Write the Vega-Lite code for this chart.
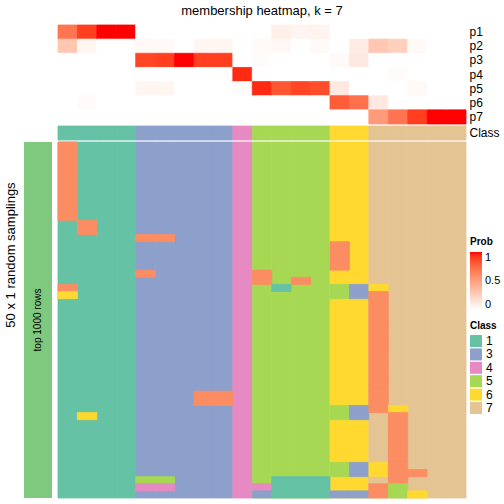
{
 "$schema": "https://vega.github.io/schema/vega-lite/v6.json",
 "background": "white",
 "padding": {"left": 4, "top": 4, "right": 0, "bottom": 0},
 "config": {
  "view": {"stroke": null},
  "font": "Liberation Sans",
  "title": {"font": "Liberation Sans", "fontWeight": "normal", "fontSize": 13, "color": "black"},
  "axis": {"labelFont": "Liberation Sans", "labelColor": "black"},
  "legend": {"labelFont": "Liberation Sans", "titleFont": "Liberation Sans", "labelColor": "black", "titleColor": "black"}
 },
 "datasets": {
  "membership": [
   {"c":0,"p":"p1","v":0.70},{"c":0,"p":"p2","v":0.30},{"c":0,"p":"p3","v":0},{"c":0,"p":"p4","v":0},{"c":0,"p":"p5","v":0},{"c":0,"p":"p6","v":0},{"c":0,"p":"p7","v":0},
   {"c":1,"p":"p1","v":0.90},{"c":1,"p":"p2","v":0.05},{"c":1,"p":"p3","v":0},{"c":1,"p":"p4","v":0},{"c":1,"p":"p5","v":0},{"c":1,"p":"p6","v":0.02},{"c":1,"p":"p7","v":0},
   {"c":2,"p":"p1","v":1},{"c":2,"p":"p2","v":0},{"c":2,"p":"p3","v":0},{"c":2,"p":"p4","v":0},{"c":2,"p":"p5","v":0},{"c":2,"p":"p6","v":0},{"c":2,"p":"p7","v":0},
   {"c":3,"p":"p1","v":1},{"c":3,"p":"p2","v":0},{"c":3,"p":"p3","v":0},{"c":3,"p":"p4","v":0},{"c":3,"p":"p5","v":0},{"c":3,"p":"p6","v":0},{"c":3,"p":"p7","v":0},
   {"c":4,"p":"p1","v":0},{"c":4,"p":"p2","v":0.04},{"c":4,"p":"p3","v":0.88},{"c":4,"p":"p4","v":0},{"c":4,"p":"p5","v":0.05},{"c":4,"p":"p6","v":0},{"c":4,"p":"p7","v":0},
   {"c":5,"p":"p1","v":0},{"c":5,"p":"p2","v":0.03},{"c":5,"p":"p3","v":0.90},{"c":5,"p":"p4","v":0},{"c":5,"p":"p5","v":0.05},{"c":5,"p":"p6","v":0},{"c":5,"p":"p7","v":0},
   {"c":6,"p":"p1","v":0},{"c":6,"p":"p2","v":0},{"c":6,"p":"p3","v":1},{"c":6,"p":"p4","v":0},{"c":6,"p":"p5","v":0},{"c":6,"p":"p6","v":0},{"c":6,"p":"p7","v":0},
   {"c":7,"p":"p1","v":0},{"c":7,"p":"p2","v":0.05},{"c":7,"p":"p3","v":0.90},{"c":7,"p":"p4","v":0},{"c":7,"p":"p5","v":0},{"c":7,"p":"p6","v":0},{"c":7,"p":"p7","v":0},
   {"c":8,"p":"p1","v":0},{"c":8,"p":"p2","v":0.05},{"c":8,"p":"p3","v":0.90},{"c":8,"p":"p4","v":0},{"c":8,"p":"p5","v":0},{"c":8,"p":"p6","v":0},{"c":8,"p":"p7","v":0},
   {"c":9,"p":"p1","v":0},{"c":9,"p":"p2","v":0},{"c":9,"p":"p3","v":0},{"c":9,"p":"p4","v":0.95},{"c":9,"p":"p5","v":0.02},{"c":9,"p":"p6","v":0},{"c":9,"p":"p7","v":0},
   {"c":10,"p":"p1","v":0},{"c":10,"p":"p2","v":0.03},{"c":10,"p":"p3","v":0.02},{"c":10,"p":"p4","v":0},{"c":10,"p":"p5","v":0.95},{"c":10,"p":"p6","v":0},{"c":10,"p":"p7","v":0},
   {"c":11,"p":"p1","v":0.08},{"c":11,"p":"p2","v":0.04},{"c":11,"p":"p3","v":0},{"c":11,"p":"p4","v":0},{"c":11,"p":"p5","v":0.82},{"c":11,"p":"p6","v":0},{"c":11,"p":"p7","v":0},
   {"c":12,"p":"p1","v":0.06},{"c":12,"p":"p2","v":0},{"c":12,"p":"p3","v":0},{"c":12,"p":"p4","v":0},{"c":12,"p":"p5","v":0.88},{"c":12,"p":"p6","v":0},{"c":12,"p":"p7","v":0},
   {"c":13,"p":"p1","v":0.06},{"c":13,"p":"p2","v":0.03},{"c":13,"p":"p3","v":0},{"c":13,"p":"p4","v":0},{"c":13,"p":"p5","v":0.86},{"c":13,"p":"p6","v":0},{"c":13,"p":"p7","v":0},
   {"c":14,"p":"p1","v":0},{"c":14,"p":"p2","v":0},{"c":14,"p":"p3","v":0.03},{"c":14,"p":"p4","v":0},{"c":14,"p":"p5","v":0.12},{"c":14,"p":"p6","v":0.80},{"c":14,"p":"p7","v":0},
   {"c":15,"p":"p1","v":0},{"c":15,"p":"p2","v":0.10},{"c":15,"p":"p3","v":0.12},{"c":15,"p":"p4","v":0},{"c":15,"p":"p5","v":0},{"c":15,"p":"p6","v":0.72},{"c":15,"p":"p7","v":0},
   {"c":16,"p":"p1","v":0},{"c":16,"p":"p2","v":0.30},{"c":16,"p":"p3","v":0},{"c":16,"p":"p4","v":0},{"c":16,"p":"p5","v":0},{"c":16,"p":"p6","v":0.12},{"c":16,"p":"p7","v":0.52},
   {"c":17,"p":"p1","v":0},{"c":17,"p":"p2","v":0.25},{"c":17,"p":"p3","v":0},{"c":17,"p":"p4","v":0.02},{"c":17,"p":"p5","v":0},{"c":17,"p":"p6","v":0},{"c":17,"p":"p7","v":0.70},
   {"c":18,"p":"p1","v":0},{"c":18,"p":"p2","v":0.03},{"c":18,"p":"p3","v":0},{"c":18,"p":"p4","v":0},{"c":18,"p":"p5","v":0.03},{"c":18,"p":"p6","v":0},{"c":18,"p":"p7","v":0.90},
   {"c":19,"p":"p1","v":0},{"c":19,"p":"p2","v":0},{"c":19,"p":"p3","v":0},{"c":19,"p":"p4","v":0},{"c":19,"p":"p5","v":0},{"c":19,"p":"p6","v":0},{"c":19,"p":"p7","v":1},
   {"c":20,"p":"p1","v":0},{"c":20,"p":"p2","v":0},{"c":20,"p":"p3","v":0},{"c":20,"p":"p4","v":0},{"c":20,"p":"p5","v":0},{"c":20,"p":"p6","v":0},{"c":20,"p":"p7","v":1}
  ],
  "classes": [
   {"c":0,"k":"1"},{"c":1,"k":"1"},{"c":2,"k":"1"},{"c":3,"k":"1"},
   {"c":4,"k":"3"},{"c":5,"k":"3"},{"c":6,"k":"3"},{"c":7,"k":"3"},{"c":8,"k":"3"},
   {"c":9,"k":"4"},
   {"c":10,"k":"5"},{"c":11,"k":"5"},{"c":12,"k":"5"},{"c":13,"k":"5"},
   {"c":14,"k":"6"},{"c":15,"k":"6"},
   {"c":16,"k":"7"},{"c":17,"k":"7"},{"c":18,"k":"7"},{"c":19,"k":"7"},{"c":20,"k":"7"}
  ],
  "samplings": [
   {"c":0,"r":0,"k":"2"},{"c":0,"r":1,"k":"2"},{"c":0,"r":2,"k":"2"},{"c":0,"r":3,"k":"2"},{"c":0,"r":4,"k":"2"},{"c":0,"r":5,"k":"2"},{"c":0,"r":6,"k":"2"},{"c":0,"r":7,"k":"2"},{"c":0,"r":8,"k":"2"},{"c":0,"r":9,"k":"2"},{"c":0,"r":10,"k":"2"},{"c":0,"r":20,"k":"2"},{"c":0,"r":21,"k":"6"},
   {"c":1,"r":11,"k":"2"},{"c":1,"r":12,"k":"2"},{"c":1,"r":38,"k":"6"},
   {"c":4,"r":13,"k":"2"},{"c":4,"r":18,"k":"2"},{"c":4,"r":47,"k":"5"},{"c":4,"r":48,"k":"4"},
   {"c":5,"r":13,"k":"2"},{"c":5,"r":47,"k":"5"},{"c":5,"r":48,"k":"4"},
   {"c":7,"r":35,"k":"2"},{"c":7,"r":36,"k":"2"},
   {"c":8,"r":35,"k":"2"},{"c":8,"r":36,"k":"2"},
   {"c":10,"r":18,"k":"2"},{"c":10,"r":19,"k":"2"},{"c":10,"r":48,"k":"4"},{"c":10,"r":49,"k":"3"},
   {"c":11,"r":20,"k":"1"},{"c":11,"r":47,"k":"1"},{"c":11,"r":48,"k":"1"},{"c":11,"r":49,"k":"1"},
   {"c":12,"r":19,"k":"2"},{"c":12,"r":47,"k":"1"},{"c":12,"r":48,"k":"1"},{"c":12,"r":49,"k":"1"},
   {"c":13,"r":47,"k":"1"},{"c":13,"r":48,"k":"1"},{"c":13,"r":49,"k":"1"},
   {"c":14,"r":14,"k":"2"},{"c":14,"r":15,"k":"2"},{"c":14,"r":16,"k":"2"},{"c":14,"r":17,"k":"2"},{"c":14,"r":20,"k":"5"},{"c":14,"r":21,"k":"5"},{"c":14,"r":37,"k":"5"},{"c":14,"r":38,"k":"5"},{"c":14,"r":45,"k":"5"},{"c":14,"r":46,"k":"5"},{"c":14,"r":49,"k":"3"},
   {"c":15,"r":20,"k":"3"},{"c":15,"r":21,"k":"3"},{"c":15,"r":37,"k":"3"},{"c":15,"r":38,"k":"3"},{"c":15,"r":45,"k":"3"},{"c":15,"r":46,"k":"3"},{"c":15,"r":49,"k":"3"},
   {"c":16,"r":20,"k":"6"},{"c":16,"r":21,"k":"2"},{"c":16,"r":22,"k":"2"},{"c":16,"r":23,"k":"2"},{"c":16,"r":24,"k":"2"},{"c":16,"r":25,"k":"2"},{"c":16,"r":26,"k":"2"},{"c":16,"r":27,"k":"2"},{"c":16,"r":28,"k":"2"},{"c":16,"r":29,"k":"2"},{"c":16,"r":30,"k":"2"},{"c":16,"r":31,"k":"2"},{"c":16,"r":32,"k":"2"},{"c":16,"r":33,"k":"2"},{"c":16,"r":34,"k":"2"},{"c":16,"r":35,"k":"2"},{"c":16,"r":36,"k":"2"},{"c":16,"r":37,"k":"2"},{"c":16,"r":45,"k":"6"},{"c":16,"r":46,"k":"6"},{"c":16,"r":48,"k":"2"},{"c":16,"r":49,"k":"2"},
   {"c":17,"r":37,"k":"6"},{"c":17,"r":38,"k":"2"},{"c":17,"r":39,"k":"2"},{"c":17,"r":40,"k":"2"},{"c":17,"r":41,"k":"2"},{"c":17,"r":42,"k":"2"},{"c":17,"r":43,"k":"2"},{"c":17,"r":44,"k":"2"},{"c":17,"r":45,"k":"2"},{"c":17,"r":46,"k":"2"},{"c":17,"r":47,"k":"2"},{"c":17,"r":48,"k":"5"},{"c":17,"r":49,"k":"5"},
   {"c":18,"r":46,"k":"2"},{"c":18,"r":49,"k":"6"}
  ]
 },
 "columns": 2,
 "align": "each",
 "bounds": "flush",
 "spacing": {"row": 2, "column": 6},
 "resolve": {"scale": {"color": "shared", "fill": "shared", "stroke": "shared"}},
 "concat": [
  {"width": 28, "height": 1, "data": {"values": []}, "mark": "point"},
  {
   "width": 408, "height": 99,
   "title": {"text": "membership heatmap, k = 7", "offset": 7},
   "data": {"name": "membership"},
   "mark": {"type": "rect", "strokeWidth": 0.8},
   "encoding": {
    "x": {"field": "c", "type": "ordinal", "axis": null, "scale": {"domain": [0,1,2,3,4,5,6,7,8,9,10,11,12,13,14,15,16,17,18,19,20], "paddingInner": 0, "paddingOuter": 0}},
    "y": {"field": "p", "type": "nominal", "scale": {"domain": ["p1","p2","p3","p4","p5","p6","p7"], "paddingInner": 0, "paddingOuter": 0}, "axis": {"orient": "right", "title": null, "domain": false, "ticks": false, "labelPadding": 3, "labelFontSize": 12}},
    "color": {"field": "v", "type": "quantitative", "scale": {"domain": [0, 1], "range": ["#ffffff", "#ff0000"], "interpolate": "lab"},
     "legend": {"title": "Prob", "orient": "none", "legendX": 446, "legendY": 212, "direction": "vertical", "gradientLength": 58, "gradientThickness": 12, "values": [0, 0.5, 1], "format": "~g", "titleFontSize": 10, "titleFontWeight": "bold", "labelFontSize": 11, "titlePadding": 5, "labelOffset": 3, "gradientStrokeWidth": 0}},
    "stroke": {"field": "v", "type": "quantitative", "scale": {"domain": [0, 1], "range": ["#ffffff", "#ff0000"], "interpolate": "lab"}, "legend": null}
   }
  },
  {"width": 28, "height": 1, "data": {"values": []}, "mark": "point"},
  {
   "width": 408, "height": 14,
   "data": {"name": "classes"},
   "mark": {"type": "rect", "strokeWidth": 0.8},
   "encoding": {
    "x": {"field": "c", "type": "ordinal", "axis": null, "scale": {"domain": [0,1,2,3,4,5,6,7,8,9,10,11,12,13,14,15,16,17,18,19,20], "paddingInner": 0, "paddingOuter": 0}},
    "y": {"datum": "Class", "type": "nominal", "scale": {"paddingInner": 0, "paddingOuter": 0}, "axis": {"orient": "right", "title": null, "domain": false, "ticks": false, "labelPadding": 3, "labelFontSize": 12}},
    "fill": {"field": "k", "type": "nominal", "scale": {"domain": ["1","2","3","4","5","6","7"], "range": ["#66C2A5","#FC8D62","#8DA0CB","#E78AC3","#A6D854","#FFD92F","#E5C494"]},
     "legend": {"title": "Class", "orient": "none", "legendX": 446, "legendY": 296, "values": ["1","3","4","5","6","7"], "symbolType": "square", "symbolSize": 144, "symbolStrokeWidth": 0, "symbolOpacity": 1, "rowPadding": 1.4, "labelFontSize": 12, "titleFontSize": 10, "titleFontWeight": "bold", "titlePadding": 4}},
    "stroke": {"field": "k", "type": "nominal", "scale": {"domain": ["1","2","3","4","5","6","7"], "range": ["#66C2A5","#FC8D62","#8DA0CB","#E78AC3","#A6D854","#FFD92F","#E5C494"]}, "legend": null}
   }
  },
  {
   "width": 28, "height": 356,
   "title": {"text": "50 x 1 random samplings", "orient": "left", "anchor": "middle", "fontSize": 13, "offset": 6, "dx": 65},
   "data": {"values": [{"label": "top 1000 rows"}]},
   "layer": [
    {"mark": {"type": "rect", "color": "#7FC97F"}, "encoding": {"x": {"value": 0}, "x2": {"value": "width"}, "y": {"value": 0}, "y2": {"value": "height"}}},
    {"mark": {"type": "text", "angle": 270, "fontSize": 10, "color": "black", "align": "center", "baseline": "middle"}, "encoding": {"text": {"field": "label"}}}
   ]
  },
  {
   "width": 408, "height": 356,
   "layer": [
    {
     "data": {"name": "classes"},
     "mark": {"type": "rect", "strokeWidth": 0.8},
     "encoding": {
      "x": {"field": "c", "type": "ordinal", "axis": null, "scale": {"domain": [0,1,2,3,4,5,6,7,8,9,10,11,12,13,14,15,16,17,18,19,20], "paddingInner": 0, "paddingOuter": 0}},
      "y": {"value": 0}, "y2": {"value": "height"},
      "fill": {"field": "k", "type": "nominal", "scale": {"domain": ["1","2","3","4","5","6","7"], "range": ["#66C2A5","#FC8D62","#8DA0CB","#E78AC3","#A6D854","#FFD92F","#E5C494"]},
       "legend": {"title": "Class", "orient": "none", "legendX": 446, "legendY": 296, "values": ["1","3","4","5","6","7"], "symbolType": "square", "symbolSize": 144, "symbolStrokeWidth": 0, "symbolOpacity": 1, "rowPadding": 1.4, "labelFontSize": 12, "titleFontSize": 10, "titleFontWeight": "bold", "titlePadding": 4}},
      "stroke": {"field": "k", "type": "nominal", "scale": {"domain": ["1","2","3","4","5","6","7"], "range": ["#66C2A5","#FC8D62","#8DA0CB","#E78AC3","#A6D854","#FFD92F","#E5C494"]}, "legend": null}
     }
    },
    {
     "data": {"name": "samplings"},
     "mark": {"type": "rect", "strokeWidth": 0.8},
     "encoding": {
      "x": {"field": "c", "type": "ordinal", "axis": null, "scale": {"domain": [0,1,2,3,4,5,6,7,8,9,10,11,12,13,14,15,16,17,18,19,20], "paddingInner": 0, "paddingOuter": 0}},
      "y": {"field": "r", "type": "ordinal", "axis": null, "scale": {"domain": [0,1,2,3,4,5,6,7,8,9,10,11,12,13,14,15,16,17,18,19,20,21,22,23,24,25,26,27,28,29,30,31,32,33,34,35,36,37,38,39,40,41,42,43,44,45,46,47,48,49], "paddingInner": 0, "paddingOuter": 0}},
      "fill": {"field": "k", "type": "nominal", "scale": {"domain": ["1","2","3","4","5","6","7"], "range": ["#66C2A5","#FC8D62","#8DA0CB","#E78AC3","#A6D854","#FFD92F","#E5C494"]},
       "legend": {"title": "Class", "orient": "none", "legendX": 446, "legendY": 296, "values": ["1","3","4","5","6","7"], "symbolType": "square", "symbolSize": 144, "symbolStrokeWidth": 0, "symbolOpacity": 1, "rowPadding": 1.4, "labelFontSize": 12, "titleFontSize": 10, "titleFontWeight": "bold", "titlePadding": 4}},
      "stroke": {"field": "k", "type": "nominal", "scale": {"domain": ["1","2","3","4","5","6","7"], "range": ["#66C2A5","#FC8D62","#8DA0CB","#E78AC3","#A6D854","#FFD92F","#E5C494"]}, "legend": null}
     }
    }
   ]
  }
 ]
}
